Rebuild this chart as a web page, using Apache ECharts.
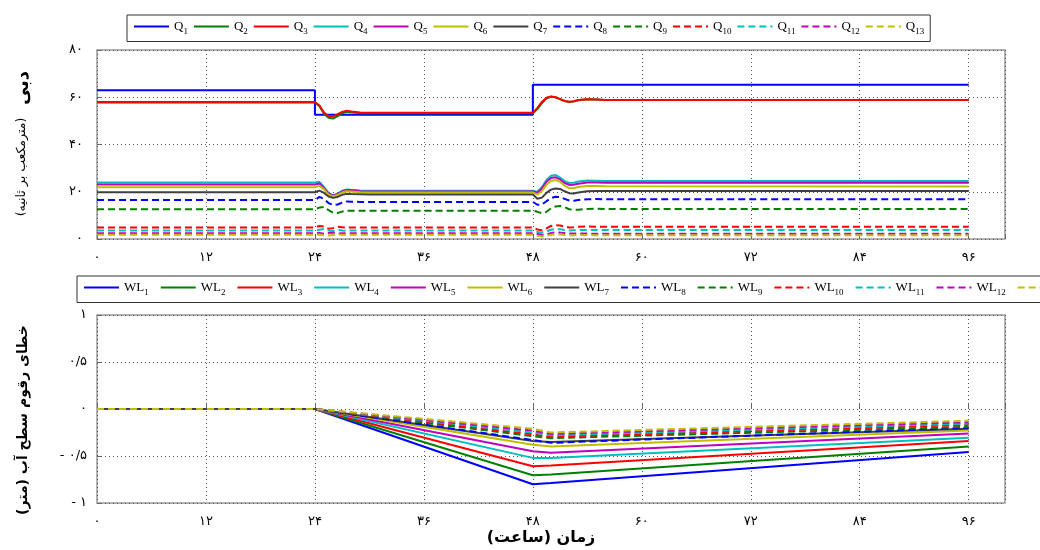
<!DOCTYPE html>
<html><head><meta charset="utf-8">
<script src="https://cdn.jsdelivr.net/npm/echarts@6/dist/echarts.min.js"></script>
<style>html,body{margin:0;padding:0;background:#fff}#c{width:1040px;height:550px}</style>
</head><body><div id="c"></div>
<script>
// ---- Top plot: discharge Q (m^3/s) vs time (h) ----
const q1Times = [0, 24, 24, 48, 48, 96];
const q1 = [63, 63, 52.6, 52.6, 65.3, 65.3];
const qTimes = [0, 24, 24.5, 25, 25.5, 26, 26.5, 27, 27.5, 28, 29, 30,
                48, 48.5, 49, 49.5, 50, 50.5, 51, 51.5, 52, 52.5, 53, 54, 55, 56, 96];
const q2  = [57.8, 57.8, 56.2, 53.0, 51.3, 51.0, 52.0, 53.2, 53.8, 53.6, 53.2, 53.2,
             53.2, 55.0, 57.5, 59.5, 60.2, 60.0, 59.2, 58.4, 58.0, 58.2, 58.7, 59.2, 59.0, 58.8, 58.8];
const q3  = [58.0, 58.0, 56.5, 53.5, 52.0, 51.9, 52.8, 53.8, 54.3, 54.0, 53.5, 53.4,
             53.4, 55.5, 58.0, 59.8, 60.3, 60.0, 59.2, 58.4, 58.1, 58.3, 58.8, 59.2, 59.0, 58.8, 58.8];
const q4  = [23.9, 23.9, 24.2, 22.0, 19.5, 18.5, 19.2, 20.4, 21.0, 20.8, 20.5, 20.4,
             20.4, 20.0, 22.0, 25.0, 26.8, 27.1, 26.0, 24.5, 23.7, 23.8, 24.3, 24.8, 24.7, 24.6, 24.5];
const q5  = [23.1, 23.1, 23.5, 21.5, 19.2, 18.3, 19.0, 20.2, 20.7, 20.6, 20.2, 20.1,
             20.1, 19.6, 21.3, 24.2, 25.8, 26.1, 25.2, 23.7, 22.9, 23.0, 23.4, 23.9, 23.9, 23.8, 23.8];
const q6  = [21.9, 21.9, 22.5, 21.0, 18.8, 18.0, 18.6, 19.7, 20.2, 20.1, 19.8, 19.7,
             19.7, 18.8, 20.2, 23.0, 24.6, 25.0, 24.2, 22.5, 21.5, 21.5, 22.0, 22.4, 22.4, 22.3, 22.2];
const q7  = [19.8, 19.8, 20.5, 19.5, 18.0, 17.4, 17.8, 18.7, 19.1, 19.0, 18.9, 18.8,
             18.8, 17.0, 17.5, 19.5, 20.9, 21.4, 21.2, 20.2, 19.4, 19.3, 19.7, 20.2, 20.3, 20.3, 20.3];
const q8  = [16.5, 16.5, 17.8, 17.0, 15.2, 14.4, 14.6, 15.4, 15.9, 15.8, 15.7, 15.7,
             15.7, 14.5, 14.6, 16.0, 17.3, 17.9, 17.8, 17.0, 16.3, 16.2, 16.5, 16.8, 16.9, 16.8, 16.8];
const q9  = [12.6, 12.6, 13.3, 13.6, 12.2, 11.1, 11.0, 11.6, 12.0, 12.0, 12.0, 12.0,
             12.0, 11.5, 10.9, 11.5, 13.0, 13.8, 14.0, 13.5, 12.6, 12.3, 12.4, 12.7, 12.8, 12.7, 12.7];
const q10 = [4.9, 4.9, 5.5, 5.3, 4.3, 4.6, 5.2, 5.0, 4.8, 4.9, 4.9, 4.9,
             4.9, 4.0, 3.7, 4.5, 5.5, 5.9, 5.7, 5.2, 4.9, 5.0, 5.2, 5.3, 5.2, 5.2, 5.2];
const q11 = [3.6, 3.6, 3.9, 4.2, 3.6, 3.4, 3.8, 3.6, 3.5, 3.6, 3.6, 3.6,
             3.6, 3.0, 2.8, 3.2, 3.9, 4.2, 4.1, 3.8, 3.6, 3.7, 3.8, 3.8, 3.8, 3.8, 3.8];
const q12 = [2.4, 2.4, 2.6, 2.2, 2.5, 2.7, 2.3, 2.4, 2.4, 2.4, 2.4, 2.4,
             2.4, 2.1, 1.8, 2.0, 2.5, 2.8, 2.7, 2.5, 2.3, 2.3, 2.4, 2.3, 2.2, 2.2, 2.2];
const q13 = [1.8, 1.8, 1.9, 1.6, 1.5, 1.7, 1.9, 1.8, 1.8, 1.8, 1.8, 1.8,
             1.8, 1.4, 1.0, 1.3, 1.8, 2.0, 1.9, 1.7, 1.6, 1.6, 1.7, 1.7, 1.6, 1.6, 1.6];

// ---- Bottom plot: water level error (m) vs time (h) ----
const wlTimes = [0, 24, 48, 50, 96];
const wl1  = [0, 0, -0.80, -0.787, -0.457];
const wl2  = [0, 0, -0.705, -0.697, -0.40];
const wl3  = [0, 0, -0.61, -0.60, -0.34];
const wl4  = [0, 0, -0.52, -0.52, -0.305];
const wl5  = [0, 0, -0.45, -0.465, -0.26];
const wl6  = [0, 0, -0.38, -0.40, -0.23];
const wl7  = [0, 0, -0.34, -0.35, -0.21];
const wl8  = [0, 0, -0.33, -0.36, -0.20];
const wl9  = [0, 0, -0.29, -0.31, -0.19];
const wl10 = [0, 0, -0.27, -0.295, -0.17];
const wl11 = [0, 0, -0.25, -0.28, -0.155];
const wl12 = [0, 0, -0.23, -0.265, -0.14];
const wl13 = [0, 0, -0.21, -0.25, -0.125];

const qNames = ['Q1','Q2','Q3','Q4','Q5','Q6','Q7','Q8','Q9','Q10','Q11','Q12','Q13'];
const wlNames = ['WL1','WL2','WL3','WL4','WL5','WL6','WL7','WL8','WL9','WL10','WL11','WL12','WL13'];
const xTicks = [0, 12, 24, 36, 48, 60, 72, 84, 96];
const yTopTicks = [0, 20, 40, 60, 80];
const yBotTicks = [-1, -0.5, 0, 0.5, 1];

const colors = ['#0000ff','#008000','#ff0000','#00bfbf','#bf00bf','#bfbf00','#404040'];
const faDigits = '۰۱۲۳۴۵۶۷۸۹';
function fa(v){
  const neg = v < 0;
  let s = String(Math.abs(v)).replace('.', '/').replace(/\d/g, d => faDigits[+d]);
  return neg ? '- ' + s : s;
}

const qSeriesVals = [q1,q2,q3,q4,q5,q6,q7,q8,q9,q10,q11,q12,q13];
const wlSeriesVals = [wl1,wl2,wl3,wl4,wl5,wl6,wl7,wl8,wl9,wl10,wl11,wl12,wl13];

const series = [];
qSeriesVals.forEach((vals, i) => {
  const times = i === 0 ? q1Times : qTimes;
  series.push({
    name: qNames[i], type: 'line', xAxisIndex: 0, yAxisIndex: 0,
    data: times.map((t, k) => [t, vals[k]]),
    symbol: 'none', color: colors[i % 7],
    lineStyle: { width: 2, type: i >= 7 ? [7, 4] : 'solid' }
  });
});
wlSeriesVals.forEach((vals, i) => {
  series.push({
    name: wlNames[i], type: 'line', xAxisIndex: 1, yAxisIndex: 1,
    data: wlTimes.map((t, k) => [t, vals[k]]),
    symbol: 'none', color: colors[i % 7],
    lineStyle: { width: 2, type: i >= 7 ? [7, 4] : 'solid' }
  });
});

const fontFa = 'DejaVu Sans';
const splitLine = { show: true, lineStyle: { color: '#555', type: [1, 3], width: 1 } };
const tick = { show: true, inside: true, length: 5, lineStyle: { color: '#666' } };
function xAxis(gi){
  return {
    type: 'value', gridIndex: gi, min: 0, max: 100, interval: 12,
    axisLine: { show: false }, axisTick: tick, splitLine,
    axisLabel: { margin: 12, fontFamily: fontFa, fontSize: 13, color: '#000',
      formatter: v => xTicks.indexOf(v) >= 0 ? fa(v) : '' }
  };
}
const legendRich = {
  m: { fontFamily: 'Liberation Serif', fontSize: 13, color: '#000', lineHeight: 20 },
  s: { fontFamily: 'Liberation Serif', fontSize: 9, color: '#000', verticalAlign: 'bottom' }
};
function legendFmt(name){
  const m = name.match(/^([A-Z]+)(\d+)$/);
  return '{m|' + m[1] + '}{s|' + m[2] + '}';
}
const legendItemStyle = { opacity: 0, borderWidth: 0 };

const option = {
  backgroundColor: '#fff',
  animation: false,
  grid: [
    { left: 97, right: 35, top: 50, height: 189, show: true, borderColor: '#999', borderWidth: 1.5, backgroundColor: '#fff' },
    { left: 97, right: 35, top: 315, height: 188, show: true, borderColor: '#999', borderWidth: 1.5, backgroundColor: '#fff' }
  ],
  legend: [
    { data: qNames, left: 127, top: 15, itemWidth: 35, itemHeight: 10, itemGap: 5,
      padding: [5, 6], borderColor: '#333', borderWidth: 1, backgroundColor: '#fff',
      itemStyle: legendItemStyle,
      formatter: legendFmt, textStyle: { rich: legendRich } },
    { data: wlNames, left: 77, top: 276, width: 1100, itemWidth: 35, itemHeight: 10, itemGap: 11,
      padding: [5, 6], borderColor: '#333', borderWidth: 1, backgroundColor: '#fff',
      itemStyle: legendItemStyle,
      formatter: legendFmt, textStyle: { rich: legendRich } }
  ],
  xAxis: [xAxis(0), xAxis(1)],
  yAxis: [
    { type: 'value', gridIndex: 0, min: 0, max: 80, interval: 20,
      axisLine: { show: false }, axisTick: tick, splitLine,
      axisLabel: { margin: 14, fontFamily: fontFa, fontSize: 13, color: '#000',
        formatter: v => yTopTicks.indexOf(v) >= 0 ? fa(v) : '' } },
    { type: 'value', gridIndex: 1, min: -1, max: 1, interval: 0.5,
      axisLine: { show: false }, axisTick: tick, splitLine,
      axisLabel: { margin: 10, fontFamily: fontFa, fontSize: 13, color: '#000',
        formatter: v => yBotTicks.indexOf(v) >= 0 ? fa(v) : '' } }
  ],
  graphic: [
    { type: 'text', x: 23, y: 88, rotation: Math.PI / 2,
      style: { text: '\u200Fدبی\u200F', font: 'bold 18px "DejaVu Sans"', fill: '#000', textAlign: 'center', textVerticalAlign: 'middle' } },
    { type: 'text', x: 22, y: 167, rotation: Math.PI / 2,
      style: { text: '\u200F(مترمکعب بر ثانیه)\u200F', font: '12.5px "DejaVu Sans"', fill: '#000', textAlign: 'center', textVerticalAlign: 'middle' } },
    { type: 'text', x: 23, y: 420, rotation: Math.PI / 2,
      style: { text: '\u200Fخطای رقوم سطح آب (متر)\u200F', font: 'bold 14px "DejaVu Sans"', fill: '#000', textAlign: 'center', textVerticalAlign: 'middle' } },
    { type: 'text', x: 541, y: 538,
      style: { text: '\u200Fزمان (ساعت)\u200F', font: 'bold 16px "DejaVu Sans"', fill: '#000', textAlign: 'center', textVerticalAlign: 'middle' } }
  ],
  series
};
const chart = echarts.init(document.getElementById('c'), null, { renderer: 'canvas' });
chart.setOption(option);
</script>
</body></html>
